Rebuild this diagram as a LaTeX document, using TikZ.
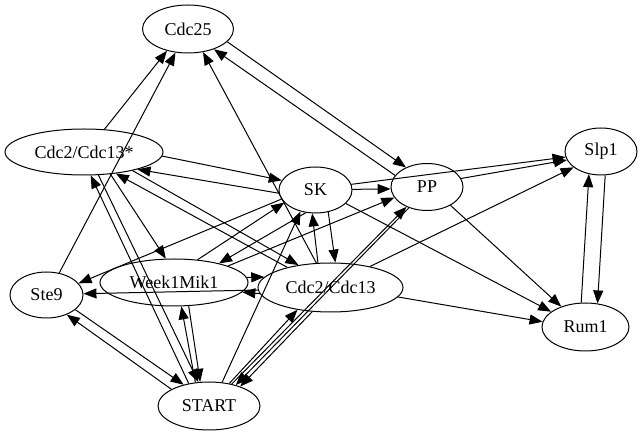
\documentclass[tikz,border=0pt]{standalone}
\usepackage{fontspec}
\setmainfont{Liberation Serif}
\usetikzlibrary{shapes.geometric,arrows.meta}
\begin{document}
\begin{tikzpicture}[x=1pt,y=-1pt,
  nd/.style={ellipse,draw,line width=1pt,inner sep=0pt,font=\fontsize{18}{20}\selectfont},
  ed/.style={line width=1pt,-{Triangle[length=13pt,width=10pt]}}]
\useasboundingbox[fill=white] (0,0) rectangle (643,435);
\node[nd,minimum width=91pt,minimum height=48pt]  (cdc25) at (188,29)    {Cdc25};
\node[nd,minimum width=158pt,minimum height=46pt] (c13s)  at (84,152)    {Cdc2/Cdc13*};
\node[nd,minimum width=73pt,minimum height=46pt]  (sk)    at (315.5,190) {SK};
\node[nd,minimum width=72pt,minimum height=47pt]  (pp)    at (427,187)   {PP};
\node[nd,minimum width=72pt,minimum height=47pt]  (slp1)  at (601,151.5) {Slp1};
\node[nd,minimum width=87pt,minimum height=48pt]  (rum1)  at (585.5,327) {Rum1};
\node[nd,minimum width=145pt,minimum height=49pt] (c13)   at (330.5,287.5) {Cdc2/Cdc13};
\node[nd,minimum width=148pt,minimum height=47pt] (wee)   at (174,282.5) {Week1Mik1};
\node[nd,minimum width=73pt,minimum height=46pt]  (ste9)  at (46.5,295)  {Ste9};
\node[nd,minimum width=102pt,minimum height=48pt] (start) at (209,406)   {START};
% edges
\draw[ed] (cdc25.-18) -- (pp.137);
\draw[ed] (pp.160) -- (cdc25.-38);
\draw[ed] (c13.120) -- (cdc25.-57);
\draw[ed] (c13s.48) -- (cdc25.-134);
\draw[ed] (ste9.60) -- (cdc25.-118);
\draw[ed] (c13s.-3.5) -- (sk.164);
\draw[ed] (sk.185) -- (c13s.-18);
\draw[ed] (sk.1.5) -- (pp.183);
\draw[ed] (sk.9.6) -- (slp1.-171);
\draw[ed] (pp.14) -- (slp1.-166);
\draw[ed] (c13.28.6) -- (slp1.-150);
\draw[ed] (slp1.-80) -- (rum1.63);
\draw[ed] (rum1.100.6) -- (slp1.-118);
\draw[ed] (pp.-38) -- (rum1.140);
\draw[ed] (sk.-24) -- (rum1.156.5);
\draw[ed] (c13.-8) -- (rum1.173);
\draw[ed] (sk.-60) -- (c13.79.6);
\draw[ed] (c13.117) -- (sk.-98.6);
\draw[ed] (start.61.6) -- (sk.-125.6);
\draw[ed] (start.48) -- (c13.-146);
\draw[ed] (start.44) -- (pp.-136);
\draw[ed] (pp.-131) -- (start.38);
\draw[ed] (c13.-127) -- (start.32);
\draw[ed] (wee.4.8) -- (c13.171);
\draw[ed] (c13.-175.4) -- (wee.-8);
\draw[ed] (c13.-178) -- (ste9.2);
\draw[ed] (sk.-165) -- (ste9.20.6);
\draw[ed] (sk.-113) -- (wee.23);
\draw[ed] (wee.44) -- (sk.-158);
\draw[ed] (wee.17.6) -- (pp.-162.5);
\draw[ed] (c13s.-40) -- (wee.109.6);
\draw[ed] (start.132) -- (c13s.-74);
\draw[ed] (c13s.-58) -- (start.114.6);
\draw[ed] (start.120) -- (wee.-73);
\draw[ed] (wee.-58.7) -- (start.110.6);
\draw[ed] (ste9.-27.8) -- (start.140);
\draw[ed] (start.156) -- (ste9.-44);
\draw[ed] (c13s.-21) -- (c13.145);
\draw[ed] (c13.155.8) -- (c13s.-34);
\end{tikzpicture}
\end{document}
